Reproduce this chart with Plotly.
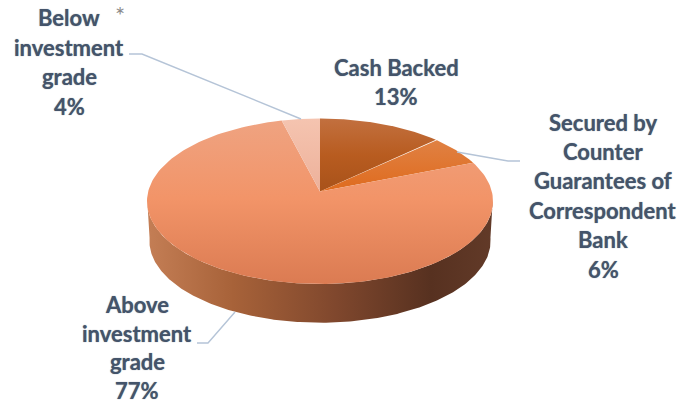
import numpy as np
import plotly.graph_objects as go

categories = ["Cash Backed", "Secured by Counter Guarantees of Correspondent Bank", "Above investment grade", "Below investment grade"]
values = [13, 6, 77, 4]
label_lines = [
    ["Cash Backed", "13%"],
    ["Secured by", "Counter", "Guarantees of", "Correspondent", "Bank", "6%"],
    ["Above", "investment", "grade", "77%"],
    ["Below", "investment", "grade", "4%"],
]
label_anchor = [(396, 67, 29.8), (603, 122, 29.4), (137, 304.5, 28.6), (69, 17.5, 29.6)]
# colour stops listed from the top of the picture to the bottom
slice_colors = [
    [[0, "#C2703F"], [0.5, "#B85C20"], [1, "#A8521A"]],
    [[0, "#E08143"], [1, "#DF6B1E"]],
    [[0, "#EFA381"], [0.48, "#F29468"], [1, "#DB7B52"]],
    [[0, "#F5C4B0"], [1, "#EDB19A"]],
]
wall_colors = [[0, "#C47E55"], [0.25, "#A76239"], [0.55, "#7F472D"], [0.82, "#573120"], [1, "#623A28"]]
leaders = [
    ([457, 508, 520], [152, 161, 161]),
    ([235, 208, 197], [312, 343, 343]),
    ([301, 142, 129], [119, 54, 54]),
]

CX, CY, A, B, K = 320.0, 191.5, 171.8, 81.6, 0.1178
DROP, SHRINK = 40.0, 0.986


def project(theta, drop=0.0, scale=1.0):
    u, v = np.sin(theta), np.cos(theta)
    w = 1 + K * v
    return CX + scale * A * u / w, CY + drop - scale * B * v / w


fig = go.Figure()

# side wall: front part of the rim between the two widest points
front = np.linspace(np.pi / 2 + np.arcsin(K) - 0.04, 3 * np.pi / 2 - np.arcsin(K) + 0.04, 240)
tx, ty = project(front)
bx, by = project(front, DROP, SHRINK)
fig.add_trace(go.Scatter(
    x=np.r_[tx, bx[::-1]], y=np.r_[ty, by[::-1]], mode="lines", line=dict(width=0),
    fill="toself", hoverinfo="skip", showlegend=False,
    fillgradient=dict(type="horizontal", colorscale=wall_colors),
))

# top slices
edges = np.cumsum([0] + values) / sum(values) * 2 * np.pi
for i, cat in enumerate(categories):
    arc = np.linspace(edges[i], edges[i + 1], 160)
    ax, ay = project(arc)
    scale = [[1 - p, c] for p, c in slice_colors[i]][::-1]
    fig.add_trace(go.Scatter(
        x=np.r_[CX, ax, CX], y=np.r_[CY, ay, CY], mode="lines", line=dict(width=0),
        fill="toself", name=cat, hoverinfo="name", showlegend=False,
        fillgradient=dict(type="vertical", colorscale=scale),
    ))

for lx, ly in leaders:
    fig.add_trace(go.Scatter(x=lx, y=ly, mode="lines", line=dict(color="#B5C4D7", width=1.4),
                             hoverinfo="skip", showlegend=False))

label_font = dict(family="Lato", size=22, color="#44546A", weight="bold",
                  shadow="0 0 1px rgba(68,84,106,0.7)")
annotations = []
for lines, (x0, y0, step) in zip(label_lines, label_anchor):
    for n, text in enumerate(lines):
        annotations.append(dict(x=x0, y=y0 + n * step, text=text, showarrow=False, xanchor="center",
                                yanchor="middle", font=label_font))
annotations.append(dict(x=120, y=14, text="*", showarrow=False, xanchor="center", yanchor="middle",
                        font=dict(family="Lato", size=24, color="#8C8C8C")))

fig.update_layout(
    width=683, height=404, margin=dict(l=0, r=0, t=0, b=0),
    paper_bgcolor="white", plot_bgcolor="white", annotations=annotations,
    xaxis=dict(range=[0, 683], visible=False, fixedrange=True),
    yaxis=dict(range=[404, 0], visible=False, fixedrange=True),
)
fig.write_html("out.html", config=dict(displayModeBar=False),
               post_script="document.body.style.margin='0';document.body.style.overflow='hidden';")
